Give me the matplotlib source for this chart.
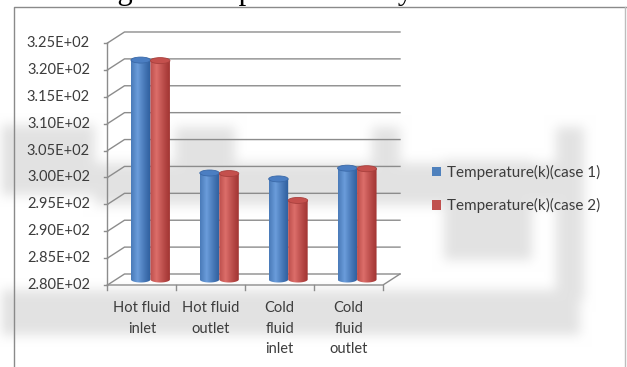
import numpy as np
import matplotlib.pyplot as plt
from matplotlib.patches import Ellipse, Patch
from matplotlib.path import Path

# valores (temperaturas en K)
categorias = ["Hot fluid\ninlet", "Hot fluid\noutlet", "Cold\nfluid\ninlet", "Cold\nfluid\noutlet"]
caso1 = [320.8, 299.8, 298.7, 300.7]
caso2 = [320.7, 299.7, 294.7, 300.6]
nombres = ["Temperature(k)(case 1)", "Temperature(k)(case 2)"]
y_ticks = [280, 285, 290, 295, 300, 305, 310, 315, 320, 325]
y_labels = [f"{v:.2E}" for v in y_ticks]
titulo = "Fig 4 : Comparison of key results"

W, H = 627, 367
fig = plt.figure(figsize=(W / 100, H / 100), dpi=100)
fig.patch.set_facecolor("white")

# fondo: marca de agua gris difuminada y marco
bg = fig.add_axes([0, 0, 1, 1], zorder=-10)
bg.set_axis_off()
mask = np.zeros((H, W))
for y0, y1, x0, x1 in [(125, 195, 0, 95), (163, 205, 95, 560), (290, 335, 0, 580),
                       (127, 165, 175, 235), (127, 165, 372, 400),
                       (160, 260, 444, 532), (127, 300, 556, 584)]:
    mask[y0:y1, x0:x1] = 1.0
k = np.ones(13) / 13
for _ in range(2):
    mask = np.apply_along_axis(lambda r: np.convolve(r, k, mode="same"), 1, mask)
    mask = np.apply_along_axis(lambda c: np.convolve(c, k, mode="same"), 0, mask)
fondo = 1 - 0.11 * np.clip(mask, 0, 1)
bg.imshow(np.dstack([fondo] * 3), extent=[0, W, H, 0], aspect="auto", interpolation="bilinear")
bg.plot([13.5, 13.5, W], [H, 6.5, 6.5], color="#8a8a8a", lw=1.0)
bg.plot([624.5, 624.5], [6.5, H], color="#bdbdbd", lw=1.0)
bg.set_xlim(0, W)
bg.set_ylim(H, 0)

# titulo cortado en el borde superior
fig.text(92 / W, 1 + 1.5 / H, titulo, family="Liberation Serif", fontsize=22,
         ha="left", va="baseline", color="black")

# ejes del grafico en coordenadas de datos (plano frontal)
px_x = 68.9           # pixeles por categoria
px_y = 5.378          # pixeles por kelvin
ddx = 17 / px_x       # profundidad en x
ddy = 11 / px_y       # profundidad en y
left, bottom = 107.5, 285
ax = fig.add_axes([left / W, 1 - bottom / H, (400 - left) / W, (bottom - 32) / H])
ax.set_axis_off()
gris = "#8c8c8c"
n = len(categorias)
ymin, ymax = y_ticks[0], y_ticks[-1]

# pared trasera, pared lateral y suelo
for v in y_ticks:
    ax.plot([0, ddx, n + ddx], [v, v + ddy, v + ddy], color=gris, lw=1.0, zorder=1, clip_on=False)
    ax.plot([-0.045, 0], [v, v], color=gris, lw=1.0, zorder=1, clip_on=False)
ax.plot([0, 0], [ymin, ymax], color=gris, lw=1.0, zorder=1, clip_on=False)
ax.plot([0, n, n + ddx], [ymin, ymin, ymin + ddy], color=gris, lw=1.0, zorder=1, clip_on=False)
for i in range(n + 1):
    ax.plot([i, i], [ymin, ymin - 5 / px_y], color=gris, lw=1.0, zorder=1, clip_on=False)

texto = "#3c3c3c"
fuente = "Lato"
for v, lab in zip(y_ticks, y_labels):
    ax.text(-17.5 / px_x, v, lab, ha="right", va="center", fontsize=10.5,
            family=fuente, color=texto)
for i, cat in enumerate(categorias):
    ax.text(i + 0.5, ymin - 16.5 / px_y, cat, ha="center", va="top", fontsize=10.5,
            family=fuente, color=texto, linespacing=1.56)


def cilindro(xc, top, base, w, eh, oscuro, claro, tapa, borde):
    t = np.linspace(0, 1, 64)
    f = np.clip(1 - np.abs(t - 0.33) / 0.67, 0, 1) ** 1.2
    cols = np.array(oscuro)[None, :] * (1 - f[:, None]) + np.array(claro)[None, :] * f[:, None]
    x0, x1 = xc - w / 2, xc + w / 2
    im = ax.imshow(cols[None, :, :], extent=[x0, x1, base - eh / 2, top], aspect="auto",
                   interpolation="bilinear", zorder=3)
    th = np.linspace(np.pi, 2 * np.pi, 40)
    vx = list(xc + w / 2 * np.cos(th)) + [x1, x0, x0]
    vy = list(base + eh / 2 * np.sin(th)) + [top, top, base]
    im.set_clip_path(Path(np.column_stack([vx, vy])), ax.transData)
    ax.add_patch(Ellipse((xc, top), w, eh, facecolor=tapa, edgecolor=borde,
                         lw=0.6, zorder=4))


def rgb(h):
    h = h.lstrip("#")
    return [int(h[j:j + 2], 16) / 255 for j in (0, 2, 4)]


estilos = [
    dict(oscuro=rgb("#2f5f9e"), claro=rgb("#6b9ddb"), tapa="#4b7ec2", borde="#3a69a8"),
    dict(oscuro=rgb("#a33634"), claro=rgb("#dc6e6a"), tapa="#c4504d", borde="#a8403d"),
]
colores_leyenda = ["#4f81bd", "#c0504d"]

w = 19.5 / px_x
eh = 6 / px_y
for i in range(n):
    xc = i + 0.5 + ddx / 2
    for j, serie in enumerate([caso1, caso2]):
        cilindro(xc + (j - 0.5) * w, serie[i] + ddy / 2, ymin + ddy / 2, w, eh, **estilos[j])

ax.set_xlim(0, n + ddx)
ax.set_ylim(ymin, ymin + (bottom - 32) / px_y)

handles = [Patch(facecolor=c, edgecolor="none") for c in colores_leyenda]
ax.legend(handles, nombres, loc="center left", bbox_to_anchor=(432 / W, 1 - 189 / H),
          bbox_transform=fig.transFigure, frameon=False,
          prop={"family": fuente, "size": 11}, handlelength=0.6, handleheight=0.6,
          handletextpad=0.35, labelspacing=1.2, borderpad=0, borderaxespad=0,
          labelcolor=texto)

fig.savefig("out.png", dpi=100)
